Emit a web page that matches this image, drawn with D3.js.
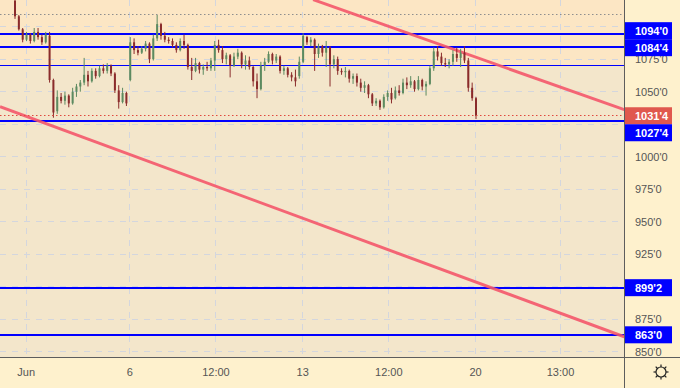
<!DOCTYPE html>
<html>
<head>
<meta charset="utf-8">
<script src="https://cdn.jsdelivr.net/npm/d3@7"></script>
<style>
  body { margin: 0; background: #fef1cd; }
  svg { display: block; font-family: "Liberation Sans", Arial, sans-serif; }
</style>
</head>
<body>
<svg id="chart"></svg>
<script>
// candles (bar index 0..120), prices in cents
const barOpen = [1120,1108,1098,1090,1094,1089,1096,1092,1088,1093,1059,1035,1046,1043,1047,1041,1050,1054,1057,1063,
  1058,1066,1062,1068,1066,1070,1064,1051,1042,1049,1059,1088,1082,1080,1083,1087,1075,1091,1102,1093,
  1090,1089,1086,1082,1089,1086,1069,1066,1072,1067,1069,1068,1074,1086,1082,1075,1078,1070,1077,1080,
  1071,1074,1069,1058,1052,1070,1073,1079,1074,1077,1066,1068,1063,1061,1062,1073,1092,1088,1090,1079,
  1085,1080,1084,1071,1075,1066,1065,1066,1060,1062,1057,1053,1055,1048,1041,1043,1038,1046,1049,1045,
  1051,1049,1057,1055,1058,1052,1059,1054,1056,1068,1081,1077,1072,1071,1073,1079,1076,1080,1074,1053,1045];
const barHigh = [1125,1109,1099,1096,1095,1099,1099,1094,1096,1096,1060,1051,1049,1050,1048,1053,1056,1059,1076,1066,
  1068,1068,1070,1071,1072,1071,1065,1055,1053,1050,1092,1091,1085,1085,1089,1088,1094,1109,1103,1096,
  1092,1091,1088,1091,1094,1087,1076,1076,1073,1071,1073,1076,1089,1090,1085,1080,1079,1080,1083,1081,
  1078,1077,1070,1064,1073,1076,1081,1080,1079,1078,1070,1069,1065,1067,1077,1095,1093,1092,1091,1087,
  1086,1089,1085,1078,1077,1068,1069,1067,1064,1064,1060,1058,1056,1049,1045,1044,1048,1051,1053,1054,
  1055,1060,1061,1062,1059,1062,1060,1058,1070,1084,1085,1080,1076,1075,1082,1084,1083,1085,1076,1057,1046];
const barLow = [1106,1097,1088,1089,1087,1088,1090,1086,1087,1057,1030,1033,1041,1040,1038,1040,1046,1050,1055,1054,
  1057,1060,1061,1064,1064,1062,1049,1037,1041,1039,1058,1079,1078,1079,1081,1072,1074,1089,1090,1088,
  1087,1084,1080,1081,1083,1067,1059,1065,1064,1063,1066,1066,1066,1080,1072,1071,1061,1069,1075,1068,
  1067,1067,1054,1045,1051,1066,1072,1071,1072,1064,1063,1061,1058,1054,1060,1072,1086,1085,1066,1076,
  1077,1069,1054,1068,1063,1063,1061,1057,1056,1054,1050,1049,1045,1039,1039,1036,1037,1043,1041,1044,
  1047,1048,1052,1053,1050,1051,1051,1047,1055,1066,1074,1070,1069,1068,1070,1073,1069,1072,1050,1043,1029];
const barClose = [1108,1098,1090,1094,1089,1096,1092,1088,1094,1059,1034,1046,1043,1047,1041,1050,1054,1057,1063,1058,
  1066,1062,1068,1066,1070,1064,1051,1042,1049,1041,1088,1082,1080,1083,1087,1075,1091,1102,1093,1090,
  1089,1086,1082,1089,1086,1069,1066,1072,1067,1069,1068,1074,1086,1082,1075,1078,1070,1077,1080,1071,
  1074,1069,1058,1052,1070,1073,1079,1074,1077,1066,1068,1063,1061,1058,1073,1093,1088,1090,1079,1085,
  1080,1084,1071,1075,1066,1065,1066,1060,1062,1057,1053,1055,1048,1041,1043,1038,1046,1049,1044,1051,
  1049,1057,1055,1058,1052,1059,1054,1056,1068,1081,1077,1072,1071,1073,1079,1076,1080,1074,1053,1045,1031.5];

// axes
const priceTicks = [850, 875, 900, 925, 950, 975, 1000, 1025, 1050, 1075, 1100];
const timeTickIndex = [2.9, 29.9, 52.3, 74.9, 97.3, 119.9, 142];
const timeTickLabels = ["Jun", "6", "12:00", "13", "12:00", "20", "13:00"];

// horizontal levels
const levelValues = [1094, 1084.5, 1070, 1027.5, 899.25, 863];
const levelWidths = [2, 2, 1, 2, 2, 2];
const levelTagged = [true, true, false, true, true, true];
const lastPrice = 1031.5;
const dottedLevel = 1109.25;
const zoneFloor = 1070;

// trend lines as [bar index, price]
const trendUpper = [[77.6, 1120.8], [158.6, 1036.2]];
const trendLower = [[-3.9, 1038.5], [158.6, 861.5]];

class CandleChart {
  constructor(_config) {
    this.config = {
      parentElement: _config.parentElement,
      containerWidth: _config.containerWidth || 680,
      containerHeight: _config.containerHeight || 388,
      plotRight: _config.plotRight || 624,
      plotBottom: _config.plotBottom || 357
    };
    this.data = barOpen.map((o, i) => ({i: i, o: o, h: barHigh[i], l: barLow[i], c: barClose[i]}));
    this.initVis();
  }

  initVis() {
    let vis = this;
    const W = vis.config.plotRight, H = vis.config.plotBottom;

    vis.xScale = d3.scaleLinear().domain([0, 120]).range([15, 476]);
    vis.yScale = d3.scaleLinear().domain([850, 1000]).range([351.7, 156.7]);

    vis.svg = d3.select(vis.config.parentElement)
        .attr('width', vis.config.containerWidth)
        .attr('height', vis.config.containerHeight);

    vis.svg.append('rect')
        .attr('width', vis.config.containerWidth).attr('height', vis.config.containerHeight)
        .attr('fill', '#fef1cd');

    vis.svg.append('clipPath').attr('id', 'plotclip')
      .append('rect').attr('width', W).attr('height', H);

    vis.plot = vis.svg.append('g').attr('clip-path', 'url(#plotclip)');

    // backgrounds
    vis.plot.append('rect').attr('width', W).attr('height', H).attr('fill', '#f3e6cb');
    vis.plot.append('rect').attr('width', W).attr('height', Math.round(vis.yScale(zoneFloor))).attr('fill', '#fce6c4');

    vis.renderVis();
  }

  renderVis() {
    let vis = this;
    const W = vis.config.plotRight, H = vis.config.plotBottom;
    const fmt = v => `${Math.floor(v)}'${Math.round((v - Math.floor(v)) * 8)}`;
    // crisp horizontal lines
    const snap = (v, w) => w % 2 === 1 ? Math.round(v - 0.5) + 0.5 : Math.round(v);

    // dashed grid
    vis.plot.selectAll('.hgrid').data(priceTicks).join('line')
        .attr('class', 'hgrid')
        .attr('x1', 0).attr('x2', W)
        .attr('y1', d => snap(vis.yScale(d), 1)).attr('y2', d => snap(vis.yScale(d), 1))
        .attr('stroke', '#d3d6de').attr('stroke-dasharray', '6,6');
    vis.plot.selectAll('.vgrid').data(timeTickIndex).join('line')
        .attr('class', 'vgrid')
        .attr('x1', d => snap(vis.xScale(d), 1)).attr('x2', d => snap(vis.xScale(d), 1))
        .attr('y1', 0).attr('y2', H)
        .attr('stroke', '#d3d6de').attr('stroke-dasharray', '6,6');

    // dotted gray level
    vis.plot.append('line')
        .attr('x1', 0).attr('x2', W)
        .attr('y1', snap(vis.yScale(dottedLevel), 1)).attr('y2', snap(vis.yScale(dottedLevel), 1))
        .attr('stroke', '#8e8e8e').attr('stroke-dasharray', '1.5,2.5');

    // blue levels
    vis.plot.selectAll('.level').data(levelValues).join('line')
        .attr('class', 'level')
        .attr('x1', 0).attr('x2', W)
        .attr('y1', (d, i) => snap(vis.yScale(d), levelWidths[i]))
        .attr('y2', (d, i) => snap(vis.yScale(d), levelWidths[i]))
        .attr('stroke', '#0000ff')
        .attr('stroke-width', (d, i) => levelWidths[i]);

    // trend lines
    const line = d3.line().x(d => vis.xScale(d[0])).y(d => vis.yScale(d[1]));
    vis.plot.selectAll('.trend').data([trendUpper, trendLower]).join('path')
        .attr('class', 'trend')
        .attr('d', line)
        .attr('fill', 'none')
        .attr('stroke', '#f4566a')
        .attr('stroke-opacity', 0.9)
        .attr('stroke-width', 3);

    // candles
    const up = '#5c8a60', down = '#8a2b2b';
    const candle = vis.plot.selectAll('.candle').data(vis.data).join('g').attr('class', 'candle');
    candle.append('line')
        .attr('x1', d => vis.xScale(d.i)).attr('x2', d => vis.xScale(d.i))
        .attr('y1', d => vis.yScale(d.h)).attr('y2', d => vis.yScale(d.l))
        .attr('stroke', d => d.c >= d.o ? up : down);
    candle.append('rect')
        .attr('x', d => vis.xScale(d.i) - 1)
        .attr('width', 2)
        .attr('y', d => vis.yScale(Math.max(d.o, d.c)))
        .attr('height', d => Math.max(1, Math.abs(vis.yScale(d.o) - vis.yScale(d.c))))
        .attr('fill', d => d.c >= d.o ? up : down);

    // last price line
    vis.plot.append('line')
        .attr('x1', 0).attr('x2', W)
        .attr('y1', snap(vis.yScale(lastPrice), 1)).attr('y2', snap(vis.yScale(lastPrice), 1))
        .attr('stroke', '#e0483e').attr('stroke-dasharray', '1.5,2.5');

    // axis frame
    vis.svg.append('line').attr('x1', W + 0.5).attr('x2', W + 0.5).attr('y1', 0).attr('y2', vis.config.containerHeight)
        .attr('stroke', '#5d5d5d');
    vis.svg.append('line').attr('x1', 0).attr('x2', vis.config.containerWidth).attr('y1', H + 0.5).attr('y2', H + 0.5)
        .attr('stroke', '#5d5d5d');

    // tag boxes, spread apart when they overlap (last price stays put)
    const boxH = 17;
    let tags = levelValues.map((v, i) => ({v: v, y: vis.yScale(v), fill: '#0000ff', fixed: false}))
        .filter((d, i) => levelTagged[i]);
    tags.push({v: lastPrice, y: vis.yScale(lastPrice), fill: '#e0584e', fixed: true});
    tags.sort((a, b) => a.y - b.y);
    for (let k = 1; k < tags.length; k++) {
      const a = tags[k - 1], b = tags[k];
      if (b.y - a.y < boxH) {
        if (a.fixed) b.y = a.y + boxH;
        else if (b.fixed) a.y = b.y - boxH;
        else { const m = (a.y + b.y) / 2 - 1.5; a.y = m - boxH / 2; b.y = m + boxH / 2; }
      }
    }

    // price tick labels; the ones hidden behind a tag are left out
    const axisG = vis.svg.append('g');
    const visibleTicks = priceTicks.filter(d => {
      const y = vis.yScale(d);
      return y < H + 4 && !tags.some(t => Math.abs(t.y - y) < 10);
    });
    axisG.selectAll('.ptick').data(visibleTicks).join('text')
        .attr('class', 'ptick')
        .attr('x', W + 11)
        .attr('y', d => vis.yScale(d))
        .attr('dy', '0.36em')
        .attr('font-size', 11)
        .attr('fill', '#555')
        .text(fmt);
    // cover the part of a label that runs below the plot
    axisG.append('rect').attr('x', W + 1).attr('y', H + 1).attr('width', 60).attr('height', 40).attr('fill', '#fef1cd');

    const tagG = axisG.selectAll('.tag').data(tags).join('g').attr('class', 'tag')
        .attr('transform', d => `translate(${W + 1},${d.y})`);
    tagG.append('rect')
        .attr('x', 0).attr('y', -boxH / 2).attr('width', 47).attr('height', boxH)
        .attr('fill', d => d.fill);
    tagG.append('text')
        .attr('x', 10).attr('dy', '0.36em')
        .attr('font-size', 11).attr('font-weight', 'bold')
        .attr('fill', '#fff')
        .text(d => fmt(d.v));

    // time labels
    vis.svg.selectAll('.ttick').data(timeTickIndex).join('text')
        .attr('class', 'ttick')
        .attr('x', d => vis.xScale(d))
        .attr('y', 372)
        .attr('dy', '0.36em')
        .attr('text-anchor', 'middle')
        .attr('font-size', 11)
        .attr('fill', '#555')
        .text((d, i) => timeTickLabels[i]);

    // settings icon
    const gear = vis.svg.append('g').attr('transform', 'translate(661,372)')
        .attr('stroke', '#222').attr('fill', 'none').attr('stroke-width', 1.2);
    gear.append('circle').attr('r', 5);
    d3.range(8).forEach(k => {
      const a = k * Math.PI / 4;
      gear.append('line')
          .attr('x1', Math.cos(a) * 5).attr('y1', Math.sin(a) * 5)
          .attr('x2', Math.cos(a) * 7.5).attr('y2', Math.sin(a) * 7.5);
    });
  }
}

new CandleChart({parentElement: '#chart'});
</script>
</body>
</html>
